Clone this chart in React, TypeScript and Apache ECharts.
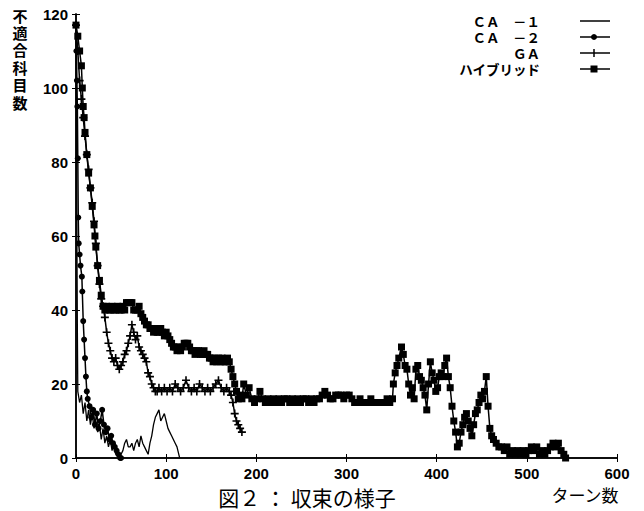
import React, { useEffect, useRef } from "react";
import * as echarts from "echarts";

const xTicks = [0, 100, 200, 300, 400, 500, 600];
const yTicks = [0, 20, 40, 60, 80, 100, 120];
const seriesNames = ["ＣＡ　－１", "ＣＡ　－２", "ＧＡ", "ハイブリッド"];
const yAxisName = "不適合科目数";
const xAxisName = "ターン数";
const caption = "図２ ： 収束の様子";

const ca1: number[][] = [
  [0, 117], [0.5, 90], [1, 60], [1.5, 35], [2, 18], [4, 15], [6, 17], [8, 12], [10, 15], [12, 10],
  [14, 13], [16, 9], [18, 12], [20, 8], [22, 10], [24, 7], [26, 9], [28, 5], [30, 8], [32, 4],
  [34, 6], [36, 3], [38, 5], [40, 2], [42, 4], [44, 1], [46, 2], [48, 0], [50, 1], [52, 2],
  [54, 4], [56, 5], [58, 3], [60, 3], [62, 4], [64, 2], [66, 4], [68, 5], [70, 3], [72, 6],
  [74, 4], [76, 3], [78, 2], [80, 1], [82, 4], [84, 6], [86, 9], [88, 11], [90, 12], [92, 13],
  [94, 10], [96, 11], [98, 12], [100, 10], [102, 8], [104, 7], [106, 6], [108, 5], [110, 4],
  [112, 3], [114, 1], [115, 0],
];

const ca2: number[][] = [
  [0, 117], [0.5, 110], [1, 102], [1.5, 95], [2, 81], [2.5, 65], [3, 58], [4, 55], [5, 52],
  [6.5, 49], [7, 45], [8, 37], [9, 32], [10, 27], [11, 22], [12, 18], [13, 16], [15, 14],
  [17, 11], [19, 13], [21, 9], [23, 12], [25, 8], [27, 10], [29, 13], [31, 9], [33, 7],
  [35, 8], [37, 5], [39, 6], [41, 4], [43, 3], [45, 2], [47, 1], [49, 0], [50, 0],
];

const ga: number[][] = [
  [0, 117], [2, 110], [4, 102], [6, 97], [8, 92], [10, 87], [12, 82], [14, 78], [16, 73],
  [18, 69], [20, 64], [22, 58], [24, 52], [26, 47], [28, 43], [30, 41], [32, 38], [34, 34],
  [36, 31], [38, 29], [40, 27], [42, 26], [44, 27], [46, 25], [48, 24], [50, 25], [52, 26],
  [54, 28], [56, 29], [58, 31], [60, 33], [62, 36], [64, 34], [66, 32], [68, 33], [70, 30],
  [72, 29], [74, 28], [76, 27], [78, 26], [80, 23], [82, 22], [84, 20], [86, 19], [88, 18],
  [90, 18], [92, 19], [95, 18], [98, 19], [101, 18], [104, 19], [107, 18], [110, 20],
  [113, 19], [116, 18], [119, 19], [122, 21], [125, 19], [128, 18], [131, 19], [134, 18],
  [137, 20], [140, 19], [143, 18], [146, 19], [149, 18], [152, 19], [155, 20], [158, 21],
  [161, 19], [164, 18], [167, 19], [170, 18], [172, 17], [174, 15], [176, 12], [178, 10],
  [180, 9], [182, 8], [184, 7],
];

const hybrid: number[][] = [
  [0, 117], [2, 114], [4, 110], [6, 106], [7, 100], [8, 95], [9, 92], [10, 88], [12, 82],
  [14, 77], [16, 73], [18, 68], [20, 63], [21, 60], [22, 57], [24, 52], [26, 48], [28, 44],
  [30, 41], [32, 40], [34, 41], [36, 40], [38, 40], [40, 41], [42, 40], [44, 40], [46, 41],
  [48, 40], [50, 40], [52, 41], [54, 40], [56, 42], [58, 42], [60, 42], [62, 42], [64, 40],
  [66, 40], [68, 40], [70, 41], [72, 39], [74, 38], [76, 37], [78, 36], [80, 36], [82, 35],
  [84, 35], [86, 34], [88, 35], [90, 34], [92, 34], [94, 35], [96, 34], [98, 33], [100, 34],
  [102, 33], [104, 32], [106, 31], [108, 30], [110, 30], [112, 29], [114, 30], [116, 29],
  [118, 30], [120, 31], [122, 31], [124, 31], [126, 30], [128, 29], [130, 29], [132, 28],
  [134, 29], [136, 29], [138, 28], [140, 28], [142, 29], [144, 28], [146, 28], [148, 27],
  [150, 27], [152, 26], [154, 27], [156, 26], [158, 27], [160, 26], [162, 27], [164, 26],
  [166, 26], [168, 27], [170, 26], [172, 24], [174, 22], [176, 20], [178, 18], [180, 16],
  [182, 17], [184, 16], [186, 20], [189, 17], [192, 19], [195, 16], [198, 15], [201, 16],
  [204, 18], [207, 16], [210, 15], [213, 16], [216, 15], [219, 16], [222, 15], [225, 16],
  [228, 15], [231, 16], [234, 16], [237, 15], [240, 16], [243, 15], [246, 16], [249, 15],
  [252, 16], [255, 16], [258, 15], [261, 16], [264, 15], [267, 16], [270, 16], [273, 17],
  [276, 18], [279, 17], [282, 16], [285, 16], [288, 17], [291, 17], [294, 17], [297, 16],
  [300, 17], [303, 17], [306, 16], [309, 15], [312, 15], [315, 16], [318, 15], [321, 15],
  [324, 15], [327, 16], [330, 15], [333, 15], [336, 15], [339, 15], [342, 15], [345, 16],
  [348, 15], [351, 16], [352, 20], [354, 23], [356, 25], [358, 27], [361, 30], [363, 28],
  [365, 25], [367, 24], [369, 20], [371, 17], [373, 19], [375, 16], [377, 24], [379, 25],
  [381, 22], [383, 21], [385, 19], [387, 17], [389, 13], [391, 20], [393, 26], [395, 23],
  [397, 21], [399, 18], [401, 19], [403, 22], [405, 23], [407, 22], [409, 25], [411, 27],
  [413, 22], [415, 19], [417, 14], [419, 10], [421, 7], [423, 3], [425, 4], [427, 7],
  [429, 9], [431, 11], [433, 12], [435, 10], [437, 8], [439, 6], [441, 9], [443, 12],
  [445, 13], [447, 15], [449, 17], [451, 16], [453, 18], [455, 22], [457, 14], [459, 8],
  [461, 6], [463, 5], [466, 4], [469, 3], [472, 3], [475, 2], [478, 3], [481, 1], [484, 2],
  [487, 1], [490, 2], [493, 1], [496, 2], [499, 1], [502, 2], [505, 3], [508, 2], [511, 3],
  [514, 1], [517, 2], [520, 1], [523, 2], [526, 3], [529, 4], [532, 3], [535, 4], [538, 2],
  [541, 1], [543, 0],
];

const plusPath = "path://M4,0H6V4H10V6H6V10H4V6H0V4H4Z";

export default function App() {
  const ref = useRef<HTMLDivElement>(null);
  useEffect(() => {
    if (!ref.current) return;
    const chart = echarts.init(ref.current, undefined, { renderer: "svg" });
    const axisCommon = {
      type: "value" as const,
      axisLine: { show: true, lineStyle: { color: "#000", width: 1.5 } },
      axisTick: { show: true, inside: true, length: 4, lineStyle: { color: "#000" } },
      splitLine: { show: false },
    };
    const labelStyle = {
      color: "#000",
      fontSize: 15,
      fontFamily: "Liberation Sans, Arial, sans-serif",
      fontWeight: "bold" as const,
    };
    const rowsY = [21, 37, 53, 69];
    const textRight = 540;
    const lx1 = 580;
    const lx2 = 610;
    const mx = 594;
    const g: any[] = [];
    seriesNames.forEach((n, i) => {
      g.push({
        type: "text",
        x: textRight,
        y: rowsY[i],
        style: {
          text: n,
          textAlign: "right",
          textVerticalAlign: "middle",
          fill: "#000",
          font: "bold 13.5px 'Noto Sans CJK JP', sans-serif",
        },
      });
      g.push({
        type: "line",
        shape: { x1: lx1, y1: rowsY[i], x2: lx2, y2: rowsY[i] },
        style: { stroke: "#000", lineWidth: 1.5 },
      });
    });
    g.push({ type: "circle", shape: { cx: mx, cy: rowsY[1], r: 3 }, style: { fill: "#000" } });
    g.push({
      type: "line",
      shape: { x1: mx, y1: rowsY[2] - 4, x2: mx, y2: rowsY[2] + 4 },
      style: { stroke: "#000", lineWidth: 1.5 },
    });
    g.push({
      type: "rect",
      shape: { x: mx - 3.5, y: rowsY[3] - 3.5, width: 7, height: 7 },
      style: { fill: "#000" },
    });
    yAxisName.split("").forEach((ch, i) => {
      g.push({
        type: "text",
        x: 20,
        y: 15 + i * 17.4,
        style: {
          text: ch,
          textAlign: "center",
          textVerticalAlign: "middle",
          fill: "#000",
          font: "bold 15px 'Noto Sans CJK JP', sans-serif",
        },
      });
    });
    g.push({
      type: "text",
      x: 585,
      y: 494,
      style: {
        text: xAxisName,
        textAlign: "center",
        textVerticalAlign: "middle",
        fill: "#000",
        font: "17px 'Noto Sans CJK JP', sans-serif",
      },
    });
    g.push({
      type: "text",
      x: 307,
      y: 497,
      style: {
        text: caption,
        textAlign: "center",
        textVerticalAlign: "middle",
        fill: "#000",
        font: "21px 'Noto Sans CJK JP', sans-serif",
      },
    });

    chart.setOption({
      animation: false,
      backgroundColor: "#fff",
      grid: { left: 76, right: 27, top: 14, bottom: 53 },
      xAxis: [
        { ...axisCommon, min: 0, max: 600, interval: 100, position: "bottom", axisLabel: { ...labelStyle, margin: 8 } },
        { ...axisCommon, min: 0, max: 600, interval: 100, position: "top", axisLabel: { show: false } },
      ],
      yAxis: [
        { ...axisCommon, min: 0, max: 120, interval: 20, position: "left", axisLabel: { ...labelStyle, margin: 8 } },
        { ...axisCommon, min: 0, max: 120, interval: 20, position: "right", axisLabel: { show: false } },
      ],
      series: [
        {
          name: seriesNames[0],
          type: "line",
          data: ca1,
          showSymbol: false,
          symbol: "none",
          lineStyle: { color: "#000", width: 1.3 },
        },
        {
          name: seriesNames[1],
          type: "line",
          data: ca2,
          symbol: "circle",
          symbolSize: 6,
          itemStyle: { color: "#000" },
          lineStyle: { color: "#000", width: 1.5 },
        },
        {
          name: seriesNames[2],
          type: "line",
          data: ga,
          symbol: plusPath,
          symbolSize: 8,
          itemStyle: { color: "#000" },
          lineStyle: { color: "#000", width: 1.5 },
        },
        {
          name: seriesNames[3],
          type: "line",
          data: hybrid,
          symbol: "rect",
          symbolSize: 7,
          itemStyle: { color: "#000" },
          lineStyle: { color: "#000", width: 1.5 },
        },
      ],
      graphic: g,
    });
    return () => chart.dispose();
  }, []);
  return (
    <div
      ref={ref}
      style={{ position: "fixed", left: 0, top: 0, width: 644, height: 511 }}
    />
  );
}
